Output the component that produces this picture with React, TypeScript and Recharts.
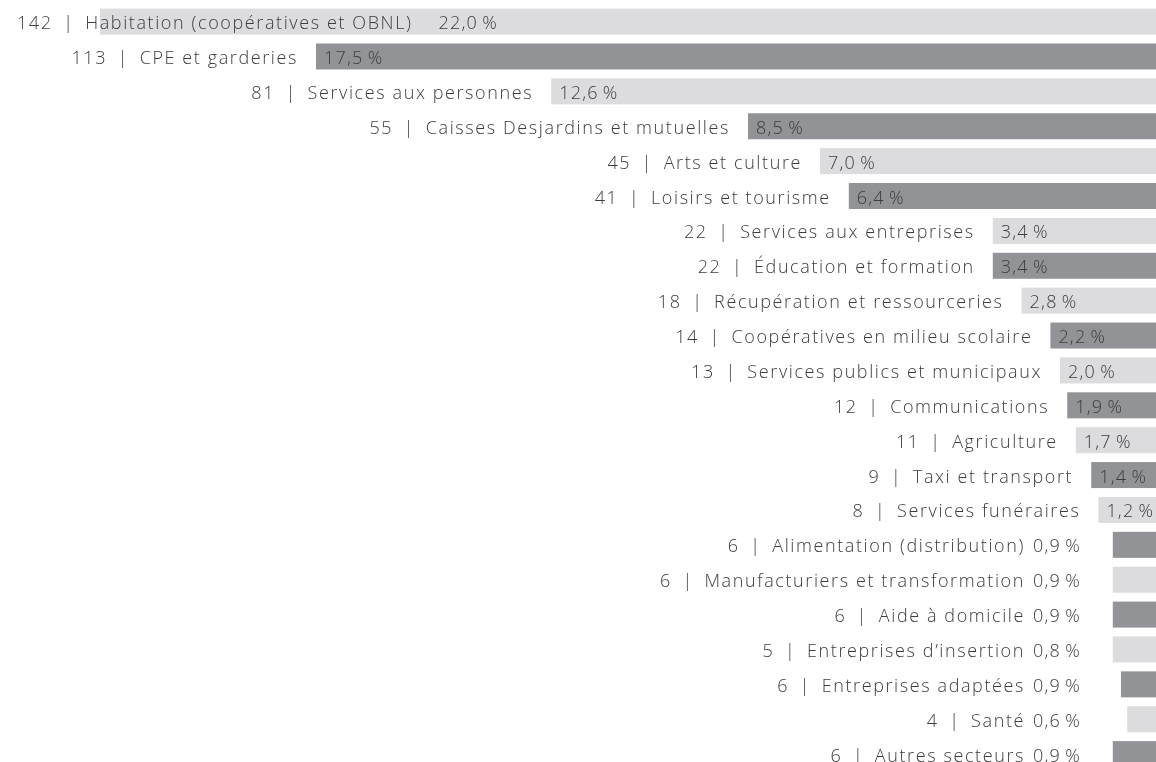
import { BarChart, Bar, XAxis, YAxis } from "recharts";

// Secteurs, nombre d'entreprises et part (%)
const counts = [142, 113, 81, 55, 45, 41, 22, 22, 18, 14, 13, 12, 11, 9, 8, 6, 6, 6, 5, 6, 4, 6];
const sectors = [
  "Habitation (coopératives et OBNL)",
  "CPE et garderies",
  "Services aux personnes",
  "Caisses Desjardins et mutuelles",
  "Arts et culture",
  "Loisirs et tourisme",
  "Services aux entreprises",
  "Éducation et formation",
  "Récupération et ressourceries",
  "Coopératives en milieu scolaire",
  "Services publics et municipaux",
  "Communications",
  "Agriculture",
  "Taxi et transport",
  "Services funéraires",
  "Alimentation (distribution)",
  "Manufacturiers et transformation",
  "Aide à domicile",
  "Entreprises d’insertion",
  "Entreprises adaptées",
  "Santé",
  "Autres secteurs",
];
const shares = [22.0, 17.5, 12.6, 8.5, 7.0, 6.4, 3.4, 3.4, 2.8, 2.2, 2.0, 1.9, 1.7, 1.4, 1.2, 0.9, 0.9, 0.9, 0.8, 0.9, 0.6, 0.9];
// bar lengths as drawn in the original (a few differ slightly from the printed %)
const barShares = [22.0, 17.5, 12.6, 8.5, 7.0, 6.4, 3.4, 3.4, 2.8, 2.2, 2.0, 1.85, 1.67, 1.35, 1.2, 0.9, 0.9, 0.9, 0.9, 0.73, 0.6, 0.9];

const LIGHT = "#dcdcde";
const DARK = "#929396";
const TEXT = "#3c3c3e";
const FONT = "'Open Sans', Roboto, sans-serif";
const FONT_SIZE = 18;
const TRACKING = 1.6;
const PCT_TRACKING = 1.2;

const data = sectors.map((name, i) => ({ name, value: barShares[i] }));

let ctx: any = null;
function textWidth(s: string) {
  if (!ctx) ctx = document.createElement("canvas").getContext("2d");
  if (!ctx) return s.length * 10;
  ctx.font = `300 ${FONT_SIZE}px ${FONT}`;
  return ctx.measureText(s).width + s.length * TRACKING;
}

function BarWithLabels(props: any) {
  const { x, y, width, height, index } = props;
  const left = Math.min(x, x + width);
  const right = Math.max(x, x + width);
  const w = Math.abs(width);
  const cy = y + height / 2 + 0.5;
  const name = `${counts[index]}\u2002|\u2002${sectors[index]}`;
  const pct = `${shares[index].toFixed(1).replace(".", ",")}\u2009%`;

  let pctX: number;
  let nameEnd: number;
  if (w >= 50) {
    // percentage sits inside the bar, unless the label would run off the left edge
    pctX = Math.max(left + 8, 17 + textWidth(name) + 26);
    nameEnd = pctX - 26;
  } else {
    pctX = right - 123;
    nameEnd = pctX - 8;
  }

  const textProps = {
    fill: TEXT,
    fontFamily: FONT,
    fontSize: FONT_SIZE,
    fontWeight: 300,
    dominantBaseline: "central" as const,
  };

  return (
    <g>
      <rect x={left} y={y} width={w} height={height} fill={index % 2 === 0 ? LIGHT : DARK} />
      <text x={nameEnd} y={cy} textAnchor="end" letterSpacing={TRACKING} {...textProps}>{name}</text>
      <text x={pctX} y={cy} textAnchor="start" letterSpacing={PCT_TRACKING} {...textProps}>{pct}</text>
    </g>
  );
}

export default function App() {
  return (
    <div style={{ position: "fixed", left: 0, top: 0, width: 1156, height: 762, overflow: "hidden", willChange: "transform" }}>
      <BarChart
        width={1156}
        height={772}
        data={data}
        layout="vertical"
        margin={{ top: 4.6, right: 0, bottom: 0, left: 0 }}
        barSize={26}
      >
        <XAxis type="number" domain={[0, 24.083]} reversed hide />
        <YAxis type="category" dataKey="name" hide />
        <Bar dataKey="value" isAnimationActive={false} shape={<BarWithLabels />} />
      </BarChart>
    </div>
  );
}
